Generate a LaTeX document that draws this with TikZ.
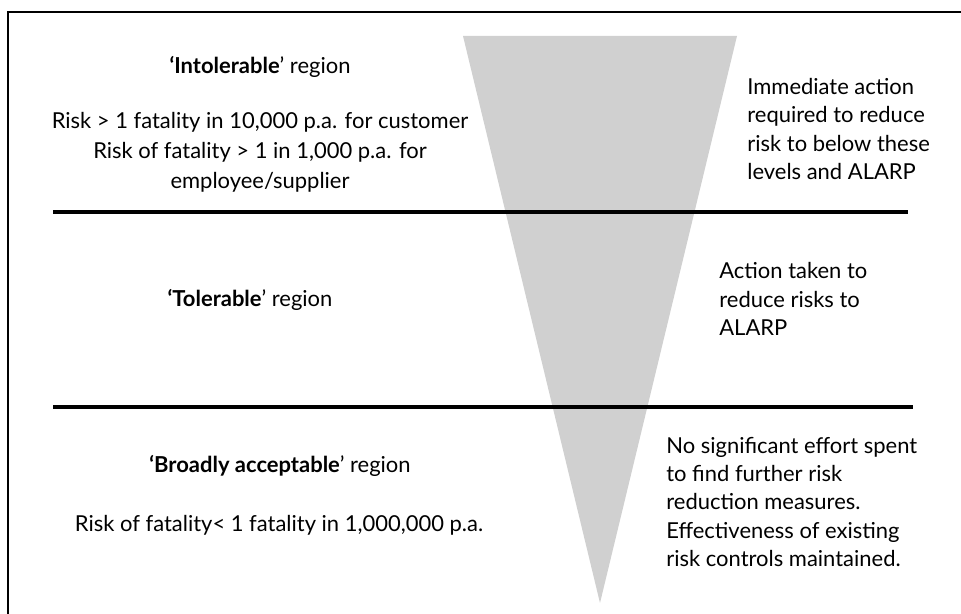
\documentclass[tikz,border=0pt]{standalone}
\usepackage{fontspec}
\setmainfont{Lato}
\usepackage{tikz}
\usetikzlibrary{positioning}
\usetikzlibrary{calc}
\definecolor{funnelgray}{RGB}{208,208,208}
\tikzset{every node/.style={font=\fontsize{12.5}{16}\selectfont,inner sep=0pt}}
\tikzset{regiontext/.style={align=center,font=\fontsize{12.5}{17}\selectfont}}
\tikzset{actiontext/.style={align=left,anchor=west}}
\tikzset{divider/.style={line width=2.2pt}}

\begin{document}
\begin{tikzpicture}[x=0.02cm,y=-0.02cm]
\useasboundingbox (0,0) rectangle (961,614);
\clip (0,0) rectangle (961,614);

% outer frame
\draw [line width=1.2pt] (8,12) rectangle (990,640);

% grey funnel
\coordinate (funTL) at (463,36);
\coordinate (funTR) at (737,36);
\coordinate (funApex) at (600,603);
\fill [funnelgray] (funTL) -- (funTR) -- (funApex) -- cycle;

% dividers
\coordinate (divAL) at (53,212);
\coordinate (divAR) at (908,212);
\coordinate (divBL) at (53,407);
\coordinate (divBR) at (913,407);
\draw [divider] (divAL) -- (divAR);
\draw [divider] (divBL) -- (divBR);

% intolerable region
\node [regiontext] (intolHead) at (260,67) {\textbf{`Intolerable}' region};
\node [regiontext] (intolRisk) at (260,152) {Risk > 1 fatality in 10,000 p.a. for customer\\Risk of fatality > 1 in 1,000 p.a. for\\employee/supplier};
\node [actiontext] (intolAct) at (747,129) {Immediate action\\required to reduce\\risk to below these\\levels and ALARP};

% tolerable region
\node [regiontext] (tolHead) at (250,300) {\textbf{`Tolerable}' region};
\node [actiontext] (tolAct) at (719,299) {Action taken to\\reduce risks to\\ALARP};

% broadly acceptable region
\node [regiontext] (accHead) at (280,466) {\textbf{`Broadly acceptable}' region};
\node [regiontext] (accRisk) at (279,525) {Risk of fatality< 1 fatality in 1,000,000 p.a.};
\node [actiontext] (accAct) at (666,502) {No significant effort spent\\to find further risk\\reduction measures.\\Effectiveness of existing\\risk controls maintained.};
\end{tikzpicture}
\end{document}
